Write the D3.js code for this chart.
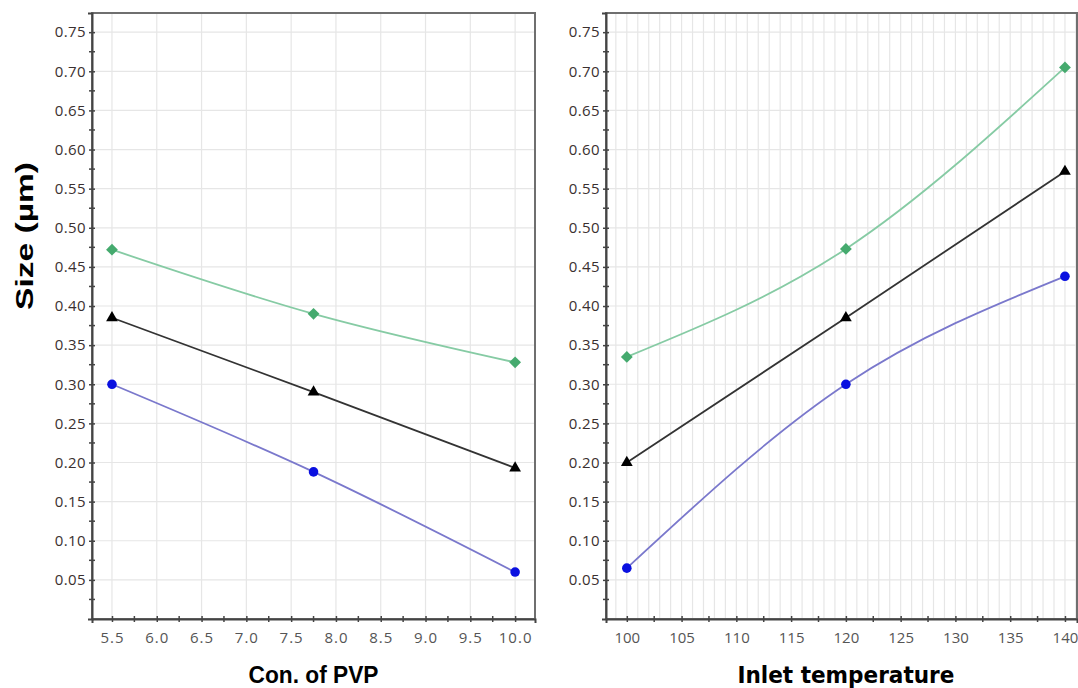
<!DOCTYPE html>
<meta charset="utf-8">
<style>
  body { margin: 0; background: #fff; }
  .tick text { font: 15px "Open Sans", sans-serif; }
  .title { font-weight: bold; fill: #000; }
</style>
<body>
<svg id="chart" width="1078" height="688"></svg>
<script src="https://cdnjs.cloudflare.com/ajax/libs/d3/7.8.5/d3.min.js"></script>
<script>
  // left panel: concentration of PVP
  const pvpX = [5.5, 7.75, 10.0]
  const pvpGreen = [0.472, 0.390, 0.328]
  const pvpBlack = [0.385, 0.290, 0.193]
  const pvpBlue = [0.300, 0.188, 0.060]
  const pvpTicks = [5.5, 6.0, 6.5, 7.0, 7.5, 8.0, 8.5, 9.0, 9.5, 10.0]

  // right panel: inlet temperature
  const tempX = [100, 120, 140]
  const tempGreen = [0.335, 0.473, 0.705]
  const tempBlack = [0.200, 0.385, 0.572]
  const tempBlue = [0.065, 0.300, 0.438]
  const tempTicks = [100, 105, 110, 115, 120, 125, 130, 135, 140]

  const yTicks = [0.05, 0.10, 0.15, 0.20, 0.25, 0.30, 0.35, 0.40, 0.45, 0.50, 0.55, 0.60, 0.65, 0.70, 0.75]

  const svg = d3.select('#chart')
  const plotTop = 13, plotBottom = 619

  const y = d3.scaleLinear().domain([0, 0.7745]).range([plotBottom, plotTop])

  const seriesStyle = [
    { key: 'green', line: '#86cba4', fill: '#45aa6e', shape: d3.symbolSquare, size: 70, rotate: 45 },
    { key: 'black', line: '#333', fill: '#000', shape: d3.symbolTriangle, size: 60, rotate: 0 },
    { key: 'blue', line: '#7a78cc', fill: '#0a10e0', shape: d3.symbolCircle, size: 72, rotate: 0 }
  ]

  function panel(opts) {
    const x = d3.scaleLinear().domain(opts.domain).range([opts.left, opts.right])
    const g = svg.append('g')

    // grid
    g.append('g').selectAll('line')
      .data(opts.vgrid)
      .enter().append('line')
        .attr('x1', d => x(d)).attr('x2', d => x(d))
        .attr('y1', plotTop).attr('y2', plotBottom)
        .attr('stroke', '#e6e6e6').attr('stroke-width', 1.2)
    g.append('g').selectAll('line')
      .data(yTicks)
      .enter().append('line')
        .attr('x1', opts.left).attr('x2', opts.right)
        .attr('y1', d => y(d)).attr('y2', d => y(d))
        .attr('stroke', '#e6e6e6').attr('stroke-width', 1.2)

    // frame
    g.append('rect')
      .attr('x', opts.left).attr('y', plotTop)
      .attr('width', opts.right - opts.left).attr('height', plotBottom - plotTop)
      .attr('fill', 'none').attr('stroke', '#6f6f6f').attr('stroke-width', 2)

    // y axis
    const yAxis = g.append('g')
      .attr('transform', `translate(${opts.left},0)`)
      .call(d3.axisLeft(y).tickValues(yTicks).tickFormat(d3.format('.2f')).tickSize(4).tickPadding(2))
    yAxis.select('.domain').attr('stroke', '#444').attr('stroke-width', 2)
    yAxis.selectAll('.tick line').attr('stroke', '#444').attr('stroke-width', 1.5).attr('x2', 3).attr('x1', -3)
    yAxis.selectAll('.tick text').attr('fill', '#3a3030').style('letter-spacing', '0.4px')
    g.append('g').selectAll('line')
      .data(d3.range(0.025, 0.775, 0.05))
      .enter().append('line')
        .attr('x1', opts.left - 3).attr('x2', opts.left + 3)
        .attr('y1', d => y(d)).attr('y2', d => y(d))
        .attr('stroke', '#444').attr('stroke-width', 1.5)

    // x axis
    const xAxis = g.append('g')
      .attr('transform', `translate(0,${plotBottom})`)
      .call(d3.axisBottom(x).tickValues(opts.ticks).tickFormat(opts.fmt).tickSize(4).tickPadding(9))
    xAxis.select('.domain').attr('stroke', '#444').attr('stroke-width', 2)
    xAxis.selectAll('.tick line').attr('stroke', '#444').attr('stroke-width', 1.5).attr('y1', -3).attr('y2', 3)
    xAxis.selectAll('.tick text').attr('fill', '#555').style('letter-spacing', opts.ls)
    g.append('g').selectAll('line')
      .data(opts.minor)
      .enter().append('line')
        .attr('x1', d => x(d)).attr('x2', d => x(d))
        .attr('y1', plotBottom - 3).attr('y2', plotBottom + 3)
        .attr('stroke', '#444').attr('stroke-width', 1.5)

    // series
    const line = d3.line()
      .x(d => x(d[0])).y(d => y(d[1]))
      .curve(d3.curveMonotoneX)
    opts.series.forEach((vals, i) => {
      const st = seriesStyle[i]
      const pts = opts.xs.map((v, j) => [v, vals[j]])
      g.append('path')
        .attr('d', line(pts))
        .attr('fill', 'none').attr('stroke', st.line).attr('stroke-width', 1.8)
      g.append('g').selectAll('path')
        .data(pts)
        .enter().append('path')
          .attr('transform', d => `translate(${x(d[0])},${y(d[1])}) rotate(${st.rotate})`)
          .attr('d', d3.symbol(st.shape, st.size))
          .attr('fill', st.fill)
    })

    // title
    svg.append('text')
      .attr('class', 'title')
      .attr('x', (x(opts.ticks[0]) + x(opts.ticks[opts.ticks.length - 1])) / 2)
      .attr('y', 683)
      .attr('text-anchor', 'middle')
      .style('font-family', opts.titleFont)
      .style('font-size', '23px')
      .attr('textLength', opts.titleLen)
      .attr('lengthAdjust', 'spacingAndGlyphs')
      .text(opts.title)
  }

  panel({
    left: 92, right: 535,
    domain: [5.277, 10.222],
    xs: pvpX,
    series: [pvpGreen, pvpBlack, pvpBlue],
    ticks: pvpTicks,
    minor: d3.range(5.75, 10, 0.5),
    vgrid: pvpTicks,
    fmt: d3.format('.1f'),
    ls: '1px',
    title: 'Con. of PVP',
    titleFont: '"Liberation Sans", Arial, sans-serif',
    titleLen: 130
  })

  panel({
    left: 606, right: 1077,
    domain: [98.1, 141.1],
    xs: tempX,
    series: [tempGreen, tempBlack, tempBlue],
    ticks: tempTicks,
    minor: d3.range(102.5, 140, 5),
    vgrid: d3.range(99, 142, 1),
    fmt: d3.format('d'),
    ls: '0px',
    title: 'Inlet temperature',
    titleFont: '"DejaVu Sans", sans-serif',
    titleLen: 217
  })

  svg.append('text')
    .attr('class', 'title')
    .attr('transform', 'translate(33,236) rotate(-90)')
    .attr('text-anchor', 'middle')
    .style('font-family', '"Liberation Sans", Arial, sans-serif')
    .style('font-size', '23px')
    .attr('textLength', 148)
    .attr('lengthAdjust', 'spacingAndGlyphs')
    .text('Size (µm)')
</script>
</body>
